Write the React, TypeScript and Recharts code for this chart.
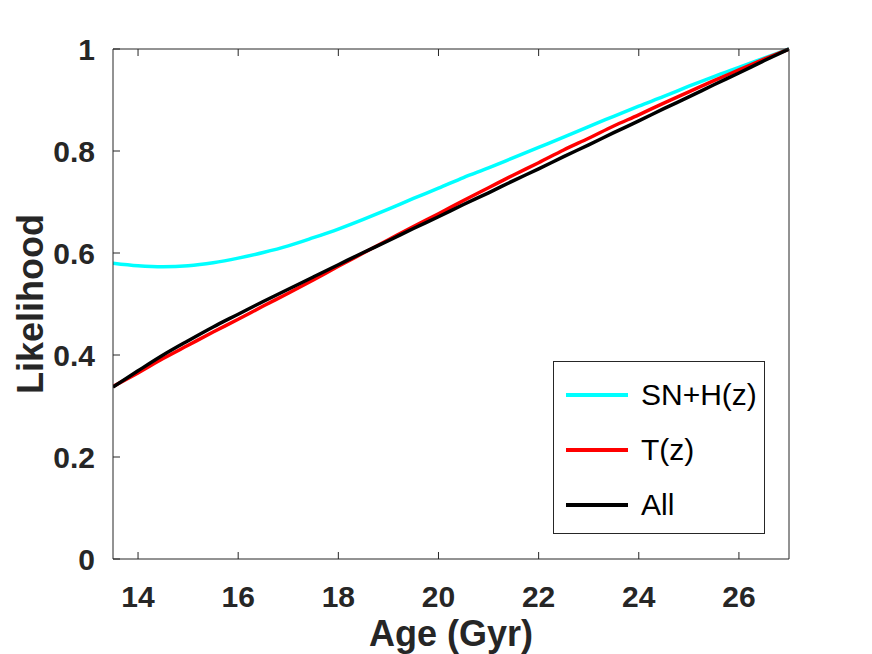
import React from 'react';
import { LineChart, Line, XAxis, YAxis, Legend } from 'recharts';

// ages in Gyr, sampled every 0.5
const ages = [
  13.5, 14, 14.5, 15, 15.5, 16, 16.5, 17, 17.5, 18, 18.5, 19, 19.5, 20,
  20.5, 21, 21.5, 22, 22.5, 23, 23.5, 24, 24.5, 25, 25.5, 26, 26.5, 27,
];

// likelihood
const snhz = [
  0.58, 0.575, 0.573, 0.575, 0.581, 0.59, 0.601, 0.614, 0.63, 0.647, 0.666, 0.686, 0.707, 0.727,
  0.748, 0.767, 0.787, 0.807, 0.827, 0.848, 0.868, 0.888, 0.907, 0.927, 0.946, 0.964, 0.982, 1.0,
];
const tz = [
  0.338, 0.365, 0.393, 0.419, 0.445, 0.47, 0.496, 0.521, 0.547, 0.574, 0.6, 0.626, 0.652, 0.677,
  0.703, 0.728, 0.753, 0.777, 0.802, 0.825, 0.849, 0.871, 0.894, 0.916, 0.938, 0.959, 0.98, 1.0,
];
const all = [
  0.337, 0.369, 0.4, 0.428, 0.455, 0.48, 0.505, 0.529, 0.553, 0.577, 0.601, 0.624, 0.648, 0.671,
  0.695, 0.718, 0.742, 0.765, 0.789, 0.812, 0.836, 0.859, 0.883, 0.906, 0.93, 0.953, 0.977, 1.0,
];

const seriesNames = ['SN+H(z)', 'T(z)', 'All'];
const xTicks = [14, 16, 18, 20, 22, 24, 26];
const yTicks = [0, 0.2, 0.4, 0.6, 0.8, 1];

const data = ages.map((age, i) => ({ age, snhz: snhz[i], tz: tz[i], all: all[i] }));

const FONT = '"Liberation Sans", Arial, Helvetica, sans-serif';
const INK = '#262626';

const renderLegend = (props: any) => {
  // keep the series order instead of the alphabetical one
  const items = [...(props.payload || [])].sort(
    (a: any, b: any) => seriesNames.indexOf(a.value) - seriesNames.indexOf(b.value)
  );
  return (
    <div
      style={{
        width: 212,
        height: 173,
        boxSizing: 'border-box',
        border: `1px solid ${INK}`,
        background: '#fff',
        position: 'relative',
        fontFamily: FONT,
      }}
    >
      {items.map((entry: any, i: number) => (
        <div
          key={entry.value}
          style={{
            position: 'absolute',
            left: 12,
            top: 5 + i * 55,
            height: 55,
            display: 'flex',
            alignItems: 'center',
          }}
        >
          <div style={{ width: 62, height: 4, background: entry.color }} />
          <span style={{ marginLeft: 13, fontSize: 30, color: '#000' }}>{entry.value}</span>
        </div>
      ))}
    </div>
  );
};

export default function App() {
  return (
    <div style={{ position: 'absolute', left: 0, top: 0, width: 872, height: 654, background: '#fff' }}>
      <LineChart width={872} height={654} data={data} margin={{ top: 48, right: 82, bottom: 0, left: 0 }}>
        <XAxis
          dataKey="age"
          type="number"
          domain={[13.5, 27]}
          ticks={xTicks}
          allowDataOverflow
          height={95}
          tickSize={-7}
          tickMargin={34}
          axisLine={{ stroke: INK }}
          tickLine={{ stroke: INK }}
          tick={{ fill: INK, fontSize: 30, fontWeight: 'bold', fontFamily: FONT }}
          label={{
            content: ({ viewBox }: any) => (
              <text
                x={viewBox.x + viewBox.width / 2}
                y={646}
                textAnchor="middle"
                fill={INK}
                fontSize={36}
                fontWeight="bold"
                fontFamily={FONT}
              >
                Age (Gyr)
              </text>
            ),
          }}
        />
        <XAxis
          xAxisId="top"
          orientation="top"
          dataKey="age"
          type="number"
          domain={[13.5, 27]}
          ticks={xTicks}
          allowDataOverflow
          height={1}
          tickSize={-7}
          tickFormatter={() => ''}
          axisLine={{ stroke: INK }}
          tickLine={{ stroke: INK }}
        />
        <YAxis
          type="number"
          domain={[0, 1]}
          ticks={yTicks}
          width={113}
          tickSize={-7}
          tickMargin={25}
          axisLine={{ stroke: INK }}
          tickLine={{ stroke: INK }}
          tick={{ fill: INK, fontSize: 30, fontWeight: 'bold', fontFamily: FONT }}
          label={{
            content: ({ viewBox }: any) => {
              const cy = viewBox.y + viewBox.height / 2;
              return (
                <text
                  x={30}
                  y={cy}
                  transform={`rotate(-90, 30, ${cy})`}
                  textAnchor="middle"
                  dominantBaseline="central"
                  fill={INK}
                  fontSize={36}
                  fontWeight="bold"
                  fontFamily={FONT}
                >
                  Likelihood
                </text>
              );
            },
          }}
        />
        <YAxis
          yAxisId="right"
          orientation="right"
          type="number"
          domain={[0, 1]}
          ticks={yTicks}
          width={1}
          tickSize={-7}
          tickFormatter={() => ''}
          axisLine={{ stroke: INK }}
          tickLine={{ stroke: INK }}
        />
        <Legend
          layout="vertical"
          align="center"
          verticalAlign="middle"
          content={renderLegend}
          wrapperStyle={{ left: 553, top: 361, width: 212, height: 173 }}
        />
        <Line
          name="SN+H(z)"
          dataKey="snhz"
          type="monotone"
          stroke="#00ffff"
          strokeWidth={3.5}
          dot={false}
          isAnimationActive={false}
        />
        <Line
          name="T(z)"
          dataKey="tz"
          type="monotone"
          stroke="#ff0000"
          strokeWidth={3.5}
          dot={false}
          isAnimationActive={false}
        />
        <Line
          name="All"
          dataKey="all"
          type="monotone"
          stroke="#000000"
          strokeWidth={3.5}
          dot={false}
          isAnimationActive={false}
        />
      </LineChart>
    </div>
  );
}
